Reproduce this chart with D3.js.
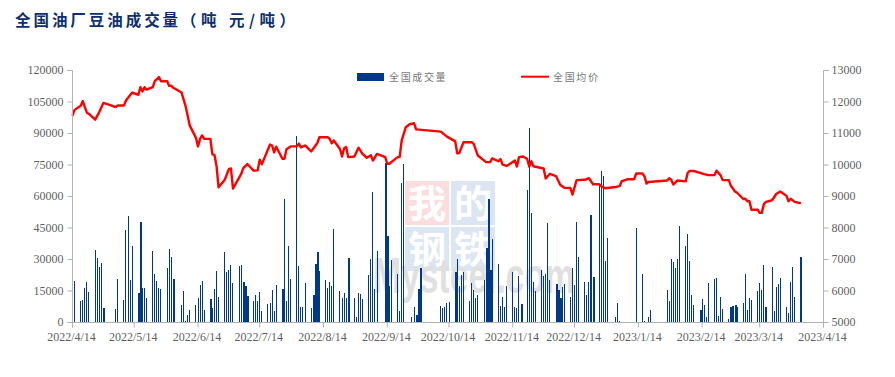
<!DOCTYPE html>
<html><head><meta charset="utf-8">
<script src="https://cdn.jsdelivr.net/npm/d3@7/dist/d3.min.js"></script>
<style>
html,body{margin:0;padding:0;background:#fff;overflow:hidden}
svg{display:block}
</style></head><body>
<svg id="c" width="895" height="377"></svg>
<script>
const startDate = "2022/4/14";
const titleMain = "全国油厂豆油成交量";
const titleUnit = "（吨 元/吨）";
const volumeName = "全国成交量";
const priceName = "全国均价";
const xTickLabels = ["2022/4/14","2022/5/14","2022/6/14","2022/7/14","2022/8/14","2022/9/14","2022/10/14","2022/11/14","2022/12/14","2023/1/14","2023/2/14","2023/3/14","2023/4/14"];
const volumeTicks = [0,15000,30000,45000,60000,75000,90000,105000,120000];
const priceTicks = [5000,6000,7000,8000,9000,10000,11000,12000,13000];

// days after startDate
const volumeDays = [1,4,5,6,7,8,11,12,13,14,15,21,22,25,26,27,28,29,32,33,34,35,36,39,40,41,42,43,46,47,48,49,53,54,55,56,57,60,61,62,63,64,67,68,69,70,71,74,75,76,77,78,81,82,83,84,85,88,89,90,91,92,95,96,97,98,99,102,103,104,105,106,109,110,111,112,113,116,117,118,119,120,123,124,125,126,127,130,131,132,133,134,137,138,139,140,141,144,145,146,147,148,152,153,154,155,158,159,160,161,165,166,167,168,169,179,180,181,182,183,186,187,188,189,190,193,194,195,196,197,200,201,202,203,204,207,208,209,210,211,214,215,216,217,218,221,222,223,224,225,228,229,230,231,232,235,236,237,238,239,242,243,244,245,246,249,250,251,252,253,256,257,258,259,260,264,265,266,274,277,278,280,281,289,290,291,292,293,294,295,298,299,300,301,302,305,306,307,308,309,312,313,314,315,316,319,320,321,322,323,326,327,328,329,330,333,334,335,336,337,340,341,342,343,344,347,348,349,350,351,354];
const volumeValues = [19700,10200,10650,16400,19200,14500,34500,30700,26400,28300,6800,6400,20700,10650,44000,50700,20200,36400,14000,47900,16400,16400,11600,34000,23000,19700,16400,15900,25900,35000,31200,20700,8300,14900,600,3500,5900,8300,11600,17800,19700,5900,11100,6800,15900,24500,12100,33500,24000,25000,27300,18800,26900,27300,19200,17300,12600,10200,13000,10200,14500,5400,8700,9200,15400,5400,17800,15900,58800,10200,36400,20700,89000,26900,7300,7300,18800,6800,13000,27800,33500,24500,20200,16400,19200,17300,44500,14900,11600,14000,11600,30700,11600,2500,14000,13500,11100,22600,30200,62100,15900,34000,76000,41200,17300,29700,23000,5400,66500,75500,2500,7300,3500,15900,25900,7800,6800,7300,9200,9700,24000,30200,17300,22600,24000,10200,18800,15400,11600,13000,20200,35500,58800,25000,39800,27800,7800,12100,7300,17300,24000,7300,6800,22100,8700,63100,92500,52200,19200,14900,25000,22100,23000,47400,20200,18300,15400,11600,16900,18300,12100,25900,17800,47900,31200,19200,13000,19200,51200,21600,66000,72000,70000,29300,40200,2500,9200,600,45000,23000,600,2500,5900,15400,10200,30200,28800,25900,30200,45900,36400,42100,29300,13000,8300,5900,11100,8300,2500,18800,20700,21100,3000,12100,6400,1600,7300,7800,8300,7300,9200,23000,5900,11600,10650,14900,18800,15400,27300,7300,26400,5400,16900,18300,21100,7300,4500,19200,26400,12100,31200];
// bars that print two pixels wide in the reference
const doubleWidthDays = [15,32,33,49,67,83,84,85,102,117,118,119,134,152,153,167,168,169,186,201,202,203,218,235,236,237,252,253,305,320,321,322,337,354];

const priceDays = [0,1,4,5,6,7,8,11,13,15,18,21,22,25,26,29,32,33,34,35,36,39,40,42,43,46,47,48,49,53,55,57,60,61,62,63,64,67,68,69,70,71,74,76,77,78,82,83,85,88,90,91,92,96,97,98,99,102,103,104,106,109,110,111,113,116,119,120,124,125,126,127,130,131,132,133,134,137,139,141,143,145,146,148,152,153,154,158,159,160,162,164,166,167,179,182,186,187,188,190,194,195,197,201,203,204,207,208,209,211,215,216,217,219,221,222,223,224,229,230,232,235,237,239,242,243,245,249,251,253,256,257,259,264,266,267,270,273,274,277,278,279,280,289,290,291,292,294,298,299,300,302,305,307,309,312,313,315,316,319,320,322,323,326,327,328,329,330,333,334,335,336,337,340,342,344,347,348,349,351,354];
const priceValues = [11570,11750,11880,12030,11840,11660,11620,11440,11680,11970,11910,11840,11890,11890,12050,12300,12230,12470,12330,12470,12390,12470,12660,12790,12660,12660,12510,12520,12450,12300,11860,11250,10860,10590,10830,10940,10830,10830,10340,10320,9970,9290,9530,9870,9890,9250,9720,9900,10030,9820,9830,10170,10020,10650,10620,10400,10580,10200,10200,10500,10590,10590,10680,10560,10620,10430,10700,10880,10880,10830,10690,10780,10510,10270,10530,10570,10250,10270,10550,10350,10230,10310,10140,10350,10250,10040,10040,10250,10250,10780,11200,11300,11330,11130,11060,10900,10750,10370,10380,10720,10720,10670,10300,10090,10090,10210,10120,10190,10010,9970,10140,9950,10250,10270,10190,9950,10120,9960,9890,9570,9720,9650,9370,9280,9270,9060,9520,9530,9580,9390,9390,9320,9260,9300,9340,9490,9550,9550,9730,9730,9640,9410,9460,9510,9580,9530,9380,9510,9480,9750,9810,9810,9750,9710,9680,9680,9820,9670,9520,9520,9340,9160,9120,8920,8930,8850,8850,8580,8580,8480,8480,8750,8830,8880,9080,9160,9020,8850,8930,8830,8780];

const parse = d3.utcParse("%Y/%m/%d");
const start = parse(startDate);
const xTickDates = xTickLabels.map(parse);
const onDay = d => d3.utcDay.offset(start, d);

const svg = d3.select("#c");
const serif = "'Liberation Serif','Times New Roman',serif";
const cjk = "'Noto Sans CJK SC','Noto Sans',sans-serif";
const grey = "#b3b3b3", textGrey = "#5f5f5f";

const x = d3.scaleUtc().domain([xTickDates[0], xTickDates[xTickDates.length-1]]).range([72.5, 823.5]);
const yL = d3.scaleLinear().domain([0,120000]).range([322.5,70.5]);
const yR = d3.scaleLinear().domain([5000,13000]).range([322.5,70.5]);

// title
const title = svg.append("text").attr("x",15).attr("y",25.5)
  .attr("font-family",cjk).attr("font-weight",700).attr("font-size",15.5)
  .attr("fill","#0d2f6e");
title.append("tspan").attr("letter-spacing",2.95).text(titleMain);
title.append("tspan").attr("letter-spacing",4.5).text(titleUnit);

// watermark
const wm = svg.append("g");
const squares = [["我",405,181,"#fbdde0"],["的",451,181,"#dbe6f2"],["钢",405,227,"#dbe6f2"],["铁",451,227,"#dbe6f2"]];
squares.forEach(([t,sx,sy,c])=>{
  wm.append("rect").attr("x",sx).attr("y",sy).attr("width",44).attr("height",44).attr("fill",c);
  wm.append("text").attr("x",sx+22).attr("y",sy+36).attr("text-anchor","middle")
    .attr("font-family",cjk).attr("font-weight",700).attr("font-size",38).attr("fill","#fff").text(t);
});
wm.append("text").attr("x",373).attr("y",293).attr("font-family","'Liberation Sans',sans-serif")
  .attr("font-size",50).attr("font-weight",700).attr("fill","#e0e0e0")
  .attr("textLength",202).attr("lengthAdjust","spacingAndGlyphs").text("Mysteel.com");

// bars
const wide = new Set(doubleWidthDays);
svg.append("g").selectAll("rect").data(volumeDays).join("rect")
  .attr("x",d=>Math.floor(x(onDay(d))))
  .attr("width",d=>wide.has(d)?2:1)
  .attr("y",(d,i)=>yL(volumeValues[i]))
  .attr("height",(d,i)=>322-yL(volumeValues[i]))
  .attr("fill","#003a87").attr("shape-rendering","crispEdges");

// line
const line = d3.line().x(d=>x(onDay(d))).y((d,i)=>yR(priceValues[i]));
svg.append("path").attr("d",line(priceDays)).attr("fill","none")
  .attr("stroke","#ff0000").attr("stroke-width",2.4).attr("stroke-linejoin","round");

// axes
function styleAxis(g){
  g.select(".domain").attr("stroke",grey);
  g.selectAll(".tick line").attr("stroke",grey);
  g.selectAll("text").attr("font-family",serif).attr("font-size",12).attr("fill",textGrey);
}
svg.append("g").attr("transform","translate(72.5,0)")
  .call(d3.axisLeft(yL).offset(0).tickValues(volumeTicks).tickFormat(d3.format("d")).tickSize(5).tickSizeOuter(5).tickPadding(4)).call(styleAxis)
  .selectAll("text").attr("dy","0.3em");
svg.append("g").attr("transform","translate(823.5,0)")
  .call(d3.axisRight(yR).offset(0).tickValues(priceTicks).tickFormat(d3.format("d")).tickSize(5).tickSizeOuter(5).tickPadding(3)).call(styleAxis)
  .selectAll("text").attr("dy","0.3em");
svg.append("g").attr("transform","translate(0,322.5)")
  .call(d3.axisBottom(x).offset(0).tickValues(xTickDates).tickFormat((d,i)=>xTickLabels[i]).tickSize(5).tickSizeOuter(5).tickPadding(5)).call(styleAxis)
  .selectAll("text").attr("dx",-1);

// legend
svg.append("rect").attr("x",357).attr("y",73).attr("width",27).attr("height",8).attr("fill","#003a87");
svg.append("text").attr("x",389).attr("y",80.5).attr("font-family",cjk).attr("font-size",10)
  .attr("letter-spacing",1.65).attr("fill","#777").text(volumeName);
svg.append("line").attr("x1",521).attr("x2",549).attr("y1",76.7).attr("y2",76.7).attr("stroke","#ff0000").attr("stroke-width",2);
svg.append("text").attr("x",553).attr("y",80.5).attr("font-family",cjk).attr("font-size",10)
  .attr("letter-spacing",1.65).attr("fill","#777").text(priceName);
</script>
</body></html>
